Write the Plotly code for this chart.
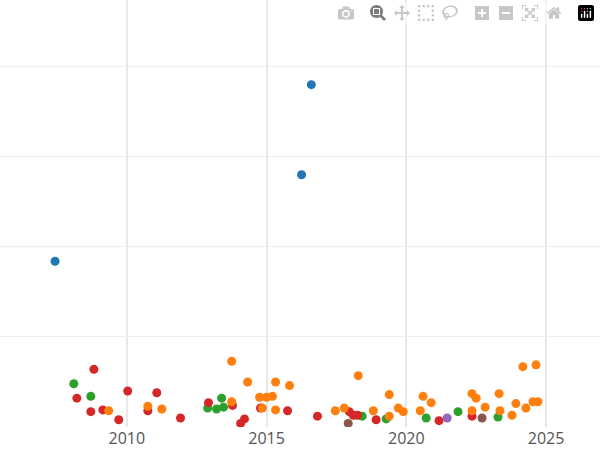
import plotly.graph_objects as go

blue_x=[2007.43,2016.25,2016.6]; blue_y=[1.84,2.80,3.80]
green_x=[2008.1,2008.71,2012.89,2013.21,2013.39,2013.46,2018.42,2019.28,2020.71,2021.85,2023.28]
green_y=[0.48,0.34,0.21,0.2,0.32,0.22,0.12,0.09,0.1,0.17,0.11]
red_x=[2008.21,2008.71,2008.82,2009.14,2009.71,2010.03,2010.75,2011.07,2011.92,2012.92,2013.78,2014.07,2014.21,2014.78,2015.75,2016.82,2017.96,2018.1,2018.25,2018.92,2021.17,2022.35]
red_y=[0.32,0.17,0.64,0.19,0.08,0.4,0.18,0.38,0.1,0.27,0.24,0.04,0.09,0.21,0.18,0.12,0.17,0.13,0.13,0.08,0.07,0.12]
orange_x=[2009.35,2010.75,2011.25,2013.75,2013.75,2014.32,2014.75,2014.85,2015.0,2015.21,2015.32,2015.32,2015.82,2017.46,2017.78,2018.28,2018.82,2019.39,2019.39,2019.71,2019.89,2020.5,2020.6,2020.89,2022.35,2022.35,2022.5,2022.82,2023.32,2023.35,2023.78,2023.92,2024.17,2024.28,2024.53,2024.64,2024.71]
orange_y=[0.18,0.23,0.2,0.73,0.28,0.5,0.33,0.21,0.33,0.34,0.5,0.19,0.46,0.18,0.21,0.57,0.18,0.36,0.12,0.21,0.17,0.18,0.34,0.27,0.37,0.18,0.32,0.22,0.37,0.18,0.13,0.26,0.67,0.21,0.28,0.69,0.28]
purple_x=[2021.46]; purple_y=[0.1]
brown_x=[2017.92,2022.71]; brown_y=[0.04,0.1]

fig=go.Figure()
for xs,ys,c in [(blue_x,blue_y,'#1f77b4'),(green_x,green_y,'#2ca02c'),(red_x,red_y,'#d62728'),
                (orange_x,orange_y,'#ff7f0e'),(purple_x,purple_y,'#9467bd'),(brown_x,brown_y,'#8c564b')]:
    fig.add_trace(go.Scatter(x=xs,y=ys,mode='markers',marker=dict(color=c,size=9),showlegend=False))
fig.update_layout(template='plotly_white',width=600,height=450,margin=dict(l=0,r=0,t=0,b=23),
                  font=dict(family='Open Sans',size=16,color='#555'))
fig.update_xaxes(range=[2005.46,2026.93],tickvals=[2010,2015,2020,2025],showgrid=True,gridcolor='#e8e8e8',gridwidth=2,zeroline=False)
fig.update_yaxes(range=[0,4.74],dtick=1,showticklabels=False,gridcolor='#eee',zeroline=False)
fig.write_html("out.html",post_script="document.body.style.margin='0';document.body.style.overflow='hidden';")
